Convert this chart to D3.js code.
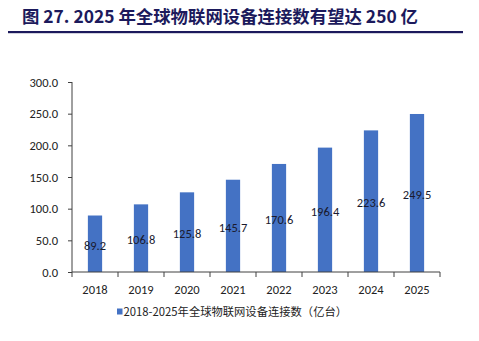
<!DOCTYPE html>
<html><head><meta charset="utf-8">
<script src="https://cdn.jsdelivr.net/npm/d3@7"></script>
<style>body{margin:0;background:#fff}svg{display:block}</style>
</head><body>
<svg id="c" width="479" height="341"></svg>
<script>
const categories = ["2018","2019","2020","2021","2022","2023","2024","2025"];
const values = [89.2,106.8,125.8,145.7,170.6,196.4,223.6,249.5];
const yTicks = [0,50,100,150,200,250,300];
const titleText = "图 27. 2025 年全球物联网设备连接数有望达 250 亿";
const seriesName = "2018-2025年全球物联网设备连接数（亿台）";

const svg = d3.select("#c");
const navy = "#1c1a5c";
const barColor = "#4472c4";
const cjk = "'Noto Sans CJK SC', 'Microsoft YaHei', sans-serif";
const latin = "Calibri, Carlito, 'Liberation Sans', Arial, sans-serif";

// title
svg.append("text").attr("x",22).attr("y",23)
  .attr("font-family",cjk).attr("font-weight","bold").attr("font-size",17.4)
  .attr("fill",navy).text(titleText);
svg.append("rect").attr("x",8).attr("y",31).attr("width",455).attr("height",2.2).attr("fill",navy);

const x = d3.scaleBand().domain(categories).range([72,440]).paddingInner(0.69).paddingOuter(0.345);
const y = d3.scaleLinear().domain([0,300]).range([272,82]);

// bars
svg.append("g").selectAll("rect").data(values).join("rect")
  .attr("x",(d,i)=>x(categories[i])).attr("width",x.bandwidth())
  .attr("y",d=>y(d)).attr("height",d=>y(0)-y(d)).attr("fill",barColor);

// y axis
const ya = d3.axisLeft(y).tickValues(yTicks).tickFormat(d3.format(".1f")).tickSize(4).tickPadding(10);
const gy = svg.append("g").attr("transform","translate(72,0)").call(ya);
gy.select(".domain").attr("stroke","#404040").attr("d","M0,272V82");
gy.selectAll(".tick line").attr("stroke","#404040");
gy.selectAll("text").attr("font-family",latin).attr("font-size",12.5).attr("fill","#222");

// x axis
const xb = d3.scaleLinear().domain([0,categories.length]).range([72,440]);
const gx = svg.append("g").attr("transform","translate(0,272)");
gx.append("line").attr("x1",72).attr("x2",440).attr("stroke","#404040");
gx.selectAll("line.t").data(d3.range(categories.length+1)).join("line").attr("class","t")
  .attr("x1",d=>xb(d)).attr("x2",d=>xb(d)).attr("y1",0).attr("y2",5).attr("stroke","#404040");
gx.selectAll("text").data(categories).join("text")
  .attr("x",d=>x(d)+x.bandwidth()/2).attr("y",22).attr("text-anchor","middle")
  .attr("font-family",latin).attr("font-size",12.5).attr("fill","#222").text(d=>d);

// value labels
svg.append("g").selectAll("text").data(values).join("text")
  .attr("x",(d,i)=>x(categories[i])+x.bandwidth()/2)
  .attr("y",d=>(y(d)+y(0))/2+1.5).attr("dy","0.35em").attr("text-anchor","middle")
  .attr("font-family",latin).attr("font-size",12.5).attr("fill","#1a1a2e").text(d=>d.toFixed(1));

// legend
svg.append("rect").attr("x",117).attr("y",308.5).attr("width",5.5).attr("height",6).attr("fill",barColor);
svg.append("text").attr("x",123.5).attr("y",316).attr("font-family",cjk).attr("font-size",11.3)
  .attr("fill","#222").text(seriesName);
</script>
</body></html>
